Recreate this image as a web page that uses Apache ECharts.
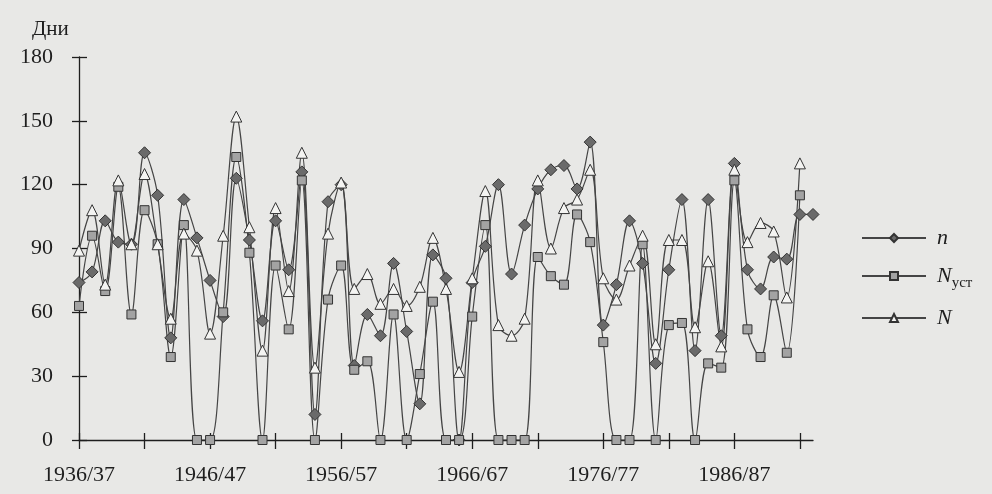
<!DOCTYPE html>
<html>
<head>
<meta charset="utf-8">
<script src="https://cdn.jsdelivr.net/npm/echarts@6/dist/echarts.min.js"></script>
<style>
  html, body { margin: 0; padding: 0; background: #e8e8e6; }
  #chart { width: 992px; height: 494px; }
</style>
</head>
<body>
<div id="chart"></div>
<script>
// seasons counted from 1936/37 (index 0)
const startYear = 1936;
const tickSeasons = [0, 5, 10, 15, 20, 25, 30, 35, 40, 45, 50, 55];
const labelSeasons = [0, 10, 20, 30, 40, 50];
const seasonLabels = ["1936/37", "1946/47", "1956/57", "1966/67", "1976/77", "1986/87"];

// n - days with snow cover
const nDays = [74, 79, 103, 93, 92, 135, 115, 48, 113, 95,
  75, 58, 123, 94, 56, 103, 80, 126, 12, 112,
  120, 35, 59, 49, 83, 51, 17, 87, 76, 0,
  74, 91, 120, 78, 101, 118, 127, 129, 118, 140,
  54, 73, 103, 83, 36, 80, 113, 42, 113, 49,
  130, 80, 71, 86, 85, 106, 106];
// N_уст - stable snow cover period
const nStable = [63, 96, 70, 119, 59, 108, 92, 39, 101, 0,
  0, 60, 133, 88, 0, 82, 52, 122, 0, 66,
  82, 33, 37, 0, 59, 0, 31, 65, 0, 0,
  58, 101, 0, 0, 0, 86, 77, 73, 106, 93,
  46, 0, 0, 92, 0, 54, 55, 0, 36, 34,
  122, 52, 39, 68, 41, 115];
// N - period between first and last snow cover
const nTotal = [89, 108, 73, 122, 92, 125, 92, 57, 97, 89,
  50, 96, 152, 100, 42, 109, 70, 135, 34, 97,
  121, 71, 78, 64, 71, 63, 72, 95, 71, 32,
  76, 117, 54, 49, 57, 122, 90, 109, 113, 127,
  76, 66, 82, 96, 45, 94, 94, 53, 84, 44,
  127, 93, 102, 98, 67, 130];

const yTicks = [0, 30, 60, 90, 120, 150, 180];

const toPairs = arr => arr.map((v, i) => [i, v]);
const font = "'Liberation Serif', 'DejaVu Serif', serif";
const ink = "#1e1e1e";
const lineColor = "#454545";

const chart = echarts.init(document.getElementById("chart"));

function lineSeries(name, data, symbol, size, fill) {
  return {
    name: name,
    type: "line",
    xAxisIndex: 0,
    yAxisIndex: 0,
    data: toPairs(data),
    smooth: 0.35,
    symbol: symbol,
    symbolSize: size,
    showSymbol: true,
    showAllSymbol: true,
    lineStyle: { color: lineColor, width: 1.2 },
    itemStyle: { color: fill, borderColor: "#333", borderWidth: 1 },
    emphasis: { disabled: true }
  };
}

const xBase = {
  type: "value",
  min: 0,
  max: 56,
  splitLine: { show: false }
};
const yBase = {
  type: "value",
  min: yTicks[0],
  max: yTicks[yTicks.length - 1],
  interval: 30,
  splitLine: { show: false }
};

chart.setOption({
  animation: false,
  backgroundColor: "#e8e8e6",
  textStyle: { fontFamily: font, color: ink },
  title: {
    text: "Дни",
    left: 27,
    top: 14,
    textStyle: { fontFamily: font, fontSize: 21, fontWeight: "normal", color: ink }
  },
  grid: { left: 79, right: 179, top: 57, bottom: 54, containLabel: false },
  legend: {
    orient: "vertical",
    left: 856,
    top: 222,
    itemWidth: 64,
    itemHeight: 10,
    itemGap: 16,
    selectedMode: false,
    data: ["n", "N_уст", "N"],
    formatter: name => name === "N_уст" ? "{i|N}{s|уст}" : "{i|" + name + "}",
    textStyle: {
      padding: [0, 0, 0, 6],
      rich: {
        i: { fontFamily: font, fontStyle: "italic", fontSize: 22, lineHeight: 30, color: ink },
        s: { fontFamily: font, fontSize: 15, lineHeight: 15, verticalAlign: "bottom", color: ink }
      }
    }
  },
  xAxis: [
    Object.assign({}, xBase, {
      axisLine: { lineStyle: { color: ink, width: 1.3 } },
      axisTick: { customValues: tickSeasons, length: 9, lineStyle: { color: ink, width: 1.3 } },
      axisLabel: {
        customValues: labelSeasons,
        formatter: v => seasonLabels[labelSeasons.indexOf(v)] || "",
        margin: 24,
        fontFamily: font,
        fontSize: 22,
        color: ink
      }
    }),
    Object.assign({}, xBase, {
      position: "bottom",
      axisLine: { show: false },
      axisTick: { customValues: tickSeasons, inside: true, length: 7, lineStyle: { color: ink, width: 1.3 } },
      axisLabel: { show: false }
    })
  ],
  yAxis: [
    Object.assign({}, yBase, {
      axisLine: { show: true, lineStyle: { color: ink, width: 1.3 } },
      axisTick: { show: true, length: 7, lineStyle: { color: ink, width: 1.3 } },
      axisLabel: { margin: 26, fontFamily: font, fontSize: 22, color: ink }
    }),
    Object.assign({}, yBase, {
      position: "left",
      axisLine: { show: false },
      axisTick: { show: true, inside: true, length: 8, lineStyle: { color: ink, width: 1.3 } },
      axisLabel: { show: false }
    })
  ],
  series: [
    lineSeries("n", nDays, "diamond", 12, "#6a6a6a"),
    lineSeries("N_уст", nStable, "rect", 9, "#a3a3a3"),
    lineSeries("N", nTotal, "triangle", 11, "#f4f4f2")
  ]
});
</script>
</body>
</html>
